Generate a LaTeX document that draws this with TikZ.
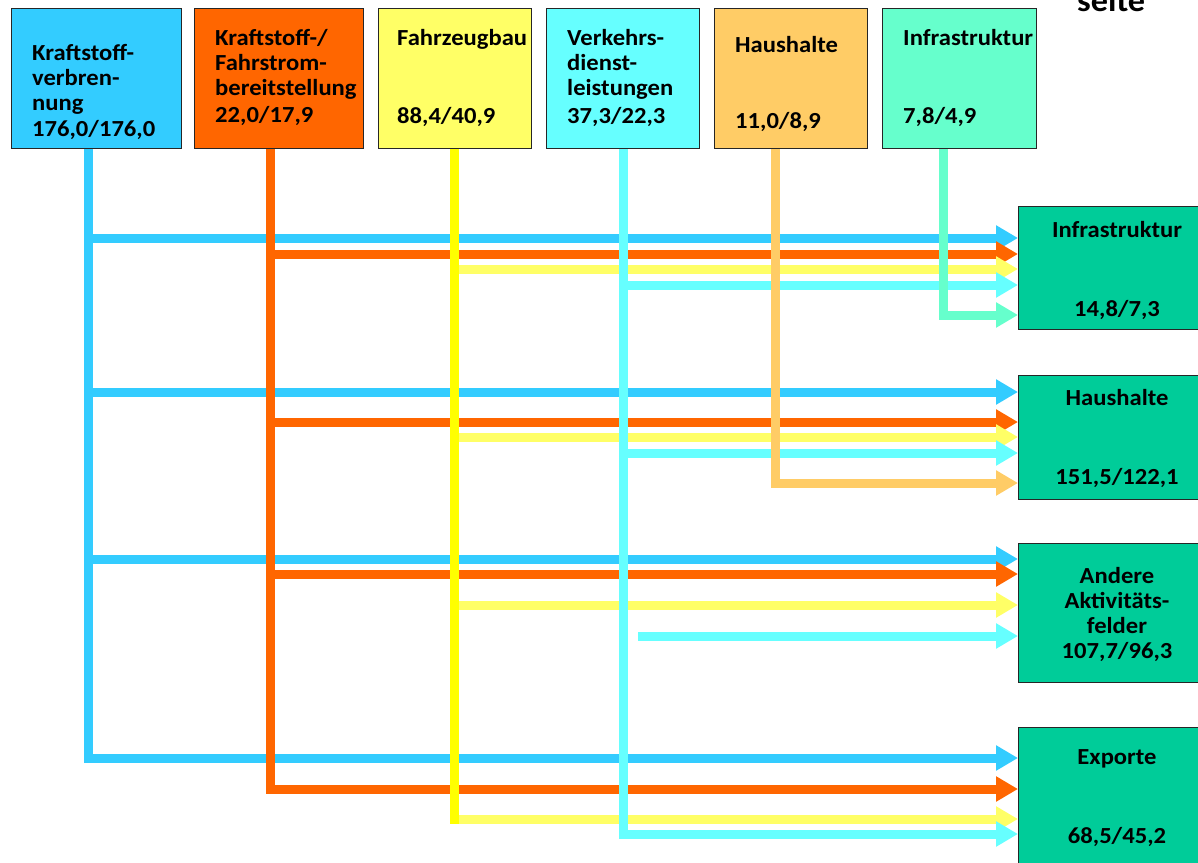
\documentclass[tikz,border=0pt]{standalone}
\usepackage{fontspec}
\setmainfont{Carlito}[FakeStretch=1.07]
\usetikzlibrary{arrows.meta}

\definecolor{kvblue}{HTML}{33CCFF}
\definecolor{kforange}{HTML}{FF6600}
\definecolor{fbyellow}{HTML}{FFFF66}
\definecolor{fbline}{HTML}{FFFF00}
\definecolor{vdcyan}{HTML}{66FFFF}
\definecolor{hhorange}{HTML}{FFCC66}
\definecolor{iraqua}{HTML}{66FFCC}
\definecolor{dstgreen}{HTML}{00CC99}

\tikzset{
  srcbox/.style={draw=black!85, line width=1.3pt, anchor=north west,
    minimum height=140pt, inner sep=0pt},
  dstbox/.style={draw=black!85, line width=1.3pt, anchor=north west,
    minimum width=230pt, fill=dstgreen, inner sep=0pt},
  lbl/.style={font=\bfseries\fontsize{23}{25}\selectfont, inner sep=0pt},
  flowv/.style={line width=9pt, draw=#1},
  flowh/.style={line width=9pt, draw=#1, -{Triangle[length=22pt,width=24pt]}},
}

\begin{document}
\begin{tikzpicture}[x=1pt,y=-1pt]
      \useasboundingbox (0,0) rectangle (1198,862);
      \clip (0,0) rectangle (1198,862);

      % Quellen
      \node[srcbox, fill=kvblue, minimum width=170pt] (kv) at (11,8) {};
      \node[srcbox, fill=kforange, minimum width=169pt] (kf) at (194,8) {};
      \node[srcbox, fill=fbyellow, minimum width=153pt] (fb) at (378,8) {};
      \node[srcbox, fill=vdcyan, minimum width=153pt] (vd) at (546,8) {};
      \node[srcbox, fill=hhorange, minimum width=153pt] (hh) at (714,8) {};
      \node[srcbox, fill=iraqua, minimum width=154pt] (ir) at (882,8) {};

      \node[lbl, anchor=base west] (kv-t) at (32,60) {
        \begin{tabular}[t]{@{}l@{}}
          Kraftstoff-\\
          verbren-\\
          nung\\[1pt]
          176,0/176,0
        \end{tabular}
      };
      \node[lbl, anchor=base west] (kf-t) at (215,45) {
        \begin{tabular}[t]{@{}l@{}}
          Kraftstoff-/\\
          Fahrstrom-\\
          bereitstellung\\[2pt]
          22,0/17,9
        \end{tabular}
      };
      \node[lbl, anchor=base west] (fb-t) at (397,45) {
        \begin{tabular}[t]{@{}l@{}}
          Fahrzeugbau\\[53pt]
          88,4/40,9
        \end{tabular}
      };
      \node[lbl, anchor=base west] (vd-t) at (567,45) {
        \begin{tabular}[t]{@{}l@{}}
          Verkehrs-\\
          dienst-\\
          leistungen\\[3pt]
          37,3/22,3
        \end{tabular}
      };
      \node[lbl, anchor=base west] (hh-t) at (735,52) {
        \begin{tabular}[t]{@{}l@{}}
          Haushalte\\[51pt]
          11,0/8,9
        \end{tabular}
      };
      \node[lbl, anchor=base west] (ir-t) at (903,45) {
        \begin{tabular}[t]{@{}l@{}}
          Infrastruktur\\[53pt]
          7,8/4,9
        \end{tabular}
      };
      \node[font=\bfseries\fontsize{32}{36}\selectfont, inner sep=0pt, anchor=base west]
        (seite) at (1077,11) {seite};

      % Senken
      \node[dstbox, minimum height=123pt] (infra) at (1018,206) {};
      \node[dstbox, minimum height=124pt] (haus) at (1018,375) {};
      \node[dstbox, minimum height=139pt] (andere) at (1018,543) {};
      \node[dstbox, minimum height=160pt] (export) at (1018,727) {};

      \node[lbl, anchor=base] (infra-t) at (1117,237) {
        \begin{tabular}[t]{@{}c@{}}
          Infrastruktur\\[54pt]
          14,8/7,3
        \end{tabular}
      };
      \node[lbl, anchor=base] (haus-t) at (1117,405) {
        \begin{tabular}[t]{@{}c@{}}
          Haushalte\\[54pt]
          151,5/122,1
        \end{tabular}
      };
      \node[lbl, anchor=base] (andere-t) at (1117,583) {
        \begin{tabular}[t]{@{}c@{}}
          Andere\\
          Aktivitäts-\\
          felder\\
          107,7/96,3
        \end{tabular}
      };
      \node[lbl, anchor=base] (export-t) at (1117,764) {
        \begin{tabular}[t]{@{}c@{}}
          Exporte\\[54pt]
          68,5/45,2
        \end{tabular}
      };

      % Lage der Stränge
      \coordinate (kv-x) at (88,0);
      \coordinate (kf-x) at (270,0);
      \coordinate (fb-x) at (454,0);
      \coordinate (vd-x) at (623,0);
      \coordinate (hh-x) at (775,0);
      \coordinate (ir-x) at (943,0);

      % Pfeile zu den Senken
      \foreach \y/\dst in {238/infra, 392/haus, 559/andere, 758/export}
        \draw[flowh=kvblue] (kv-x |- 0,\y) -- (\dst.west |- 0,\y);
      \foreach \y/\dst in {254/infra, 422/haus, 574/andere, 789/export}
        \draw[flowh=kforange] (kf-x |- 0,\y) -- (\dst.west |- 0,\y);
      \foreach \y/\dst in {269/infra, 437/haus, 605/andere, 819/export}
        \draw[flowh=fbyellow] (fb-x |- 0,\y) -- (\dst.west |- 0,\y);
      \foreach \y/\dst in {285/infra, 453/haus, 834/export}
        \draw[flowh=vdcyan] (vd-x |- 0,\y) -- (\dst.west |- 0,\y);
      \coordinate (vd-a) at (638,636);
      \draw[flowh=vdcyan] (vd-a) -- (andere.west |- vd-a);
      \draw[flowh=hhorange] (hh-x |- 0,483) -- (haus.west |- 0,483);
      \draw[flowh=iraqua] (ir-x |- 0,315) -- (infra.west |- 0,315);

      % senkrechte Stränge
      \draw[flowv=kvblue] (kv-x |- kv.south) -- (kv-x |- 0,762.5);
      \draw[flowv=kforange] (kf-x |- kf.south) -- (kf-x |- 0,793.5);
      \draw[flowv=fbline] (fb-x |- fb.south) -- (fb-x |- 0,823.5);
      \draw[flowv=vdcyan] (vd-x |- vd.south) -- (vd-x |- 0,838.5);
      \draw[flowv=hhorange] (hh-x |- hh.south) -- (hh-x |- 0,487.5);
      \draw[flowv=iraqua] (ir-x |- ir.south) -- (ir-x |- 0,319.5);
    \end{tikzpicture}
\end{document}
